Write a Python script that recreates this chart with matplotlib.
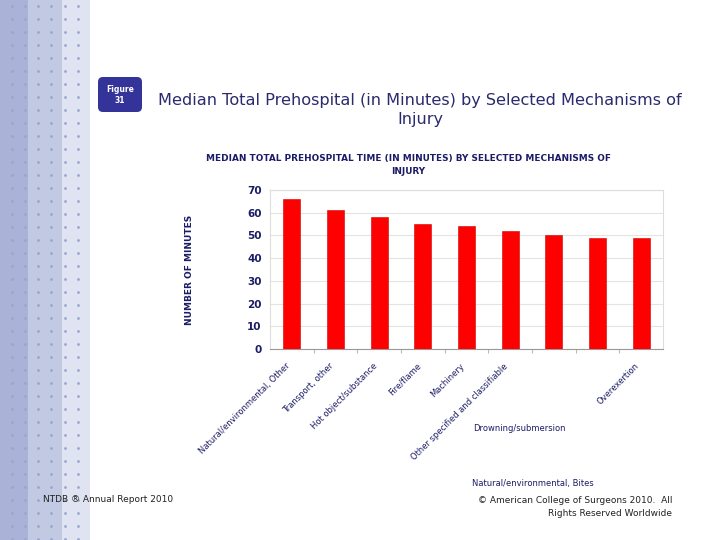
import matplotlib
matplotlib.use("Agg")
import matplotlib.pyplot as plt
from matplotlib.patches import Rectangle, FancyBboxPatch

# data
mechanisms = [
    "Natural/environmental, Other",
    "Transport, other",
    "Hot object/substance",
    "Fire/flame",
    "Machinery",
    "Other specified and classifiable",
    "Drowning/submersion",
    "Natural/environmental, Bites",
    "Overexertion",
]
minutes = [66, 61, 58, 55, 54, 52, 50, 49, 49]
yticks = [0, 10, 20, 30, 40, 50, 60, 70]

navy = "#1c1c66"
W, H = 720, 540

fig = plt.figure(figsize=(7.2, 5.4), dpi=100)
fig.patch.set_facecolor("white")


def fx(px):
    return px / W


def fy(py):
    return 1 - py / H


# decorative band on the left
bg = fig.add_axes([0, 0, 1, 1], zorder=-1)
bg.set_xlim(0, W)
bg.set_ylim(H, 0)
bg.axis("off")
for x0, x1, c in [(0, 28, "#aab3d7"), (28, 62, "#c2c9e3"), (62, 90, "#dfe3f2")]:
    bg.add_patch(Rectangle((x0, 0), x1 - x0, H, color=c, lw=0))
dot_x = [12, 25, 38, 51, 65, 78]
dot_y = list(range(6, H, 13))
for dx in dot_x:
    bg.scatter([dx] * len(dot_y), dot_y, s=4, color="#9ba5cd", lw=0)

# figure badge
bg.add_patch(FancyBboxPatch((98, 77), 44, 35, boxstyle="round,pad=0,rounding_size=5",
                            fc="#333399", ec="none"))
bg.text(120, 95, "Figure\n31", color="white", fontsize=5.5, fontweight="bold",
        ha="center", va="center", linespacing=1.3)

# slide title
bg.text(420, 110, "Median Total Prehospital (in Minutes) by Selected Mechanisms of\nInjury",
        color="#2a2a6e", fontsize=11.6, ha="center", va="center", linespacing=1.3)

# footer
bg.text(43, 500, "NTDB \u00ae Annual Report 2010", fontsize=6.5, color="#222222",
        ha="left", va="center")
bg.text(672, 507, "\u00a9 American College of Surgeons 2010.  All\nRights Reserved Worldwide",
        fontsize=6.5, color="#222222", ha="right", va="center", linespacing=1.5,
        multialignment="right")

# chart
ax = fig.add_axes([fx(270), fy(349), fx(663 - 270), fy(190) - fy(349)])
x = list(range(len(minutes)))
ax.bar(x, minutes, width=0.39, color="#ff0000", edgecolor="#cc0000", lw=0.4, zorder=3)
ax.set_xlim(-0.5, len(minutes) - 0.5)
ax.set_ylim(0, 70)
ax.set_yticks(yticks)
ax.set_yticklabels([str(v) for v in yticks], fontsize=7.5, fontweight="bold", color=navy)
ax.yaxis.grid(True, color="#e4e4e4", lw=0.8, zorder=0)
ax.tick_params(axis="y", length=0, pad=6)
ax.set_xticks([i + 0.5 for i in x[:-1]])
ax.set_xticklabels([])
ax.tick_params(axis="x", length=3, color="#bbbbbb")
for side in ["top", "right", "left"]:
    ax.spines[side].set_color("#dddddd")
    ax.spines[side].set_linewidth(0.8)
ax.spines["bottom"].set_color("#999999")

rotated = [0, 1, 2, 3, 4, 5, 8]
for i in rotated:
    ax.text(i - 0.15, -5.5, mechanisms[i], rotation=45, ha="right", va="top",
            rotation_mode="anchor", fontsize=6, color=navy)
ax.text(6 - 0.8, -35, mechanisms[6], ha="center", va="center", fontsize=6, color=navy)
ax.text(7 - 1.48, -59, mechanisms[7], ha="center", va="center", fontsize=6, color=navy)

ax.set_ylabel("NUMBER OF MINUTES", fontsize=6.5, fontweight="bold", color=navy, labelpad=38)

fig.text(fx(408), fy(165), "MEDIAN TOTAL PREHOSPITAL TIME (IN MINUTES) BY SELECTED MECHANISMS OF\nINJURY",
         ha="center", va="center", fontsize=6.4, fontweight="bold", color=navy, linespacing=1.5)

fig.savefig("out.png", dpi=100)
